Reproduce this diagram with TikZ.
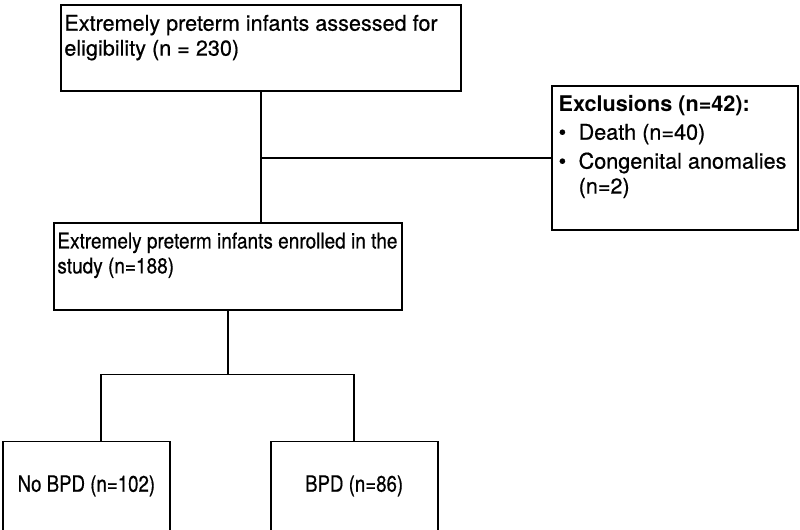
\documentclass[tikz,border=0pt]{standalone}
\usepackage{fontspec}
\setmainfont[UprightFeatures={FakeBold=0.5}]{TeX Gyre Heros}
\newfontfamily\narrowfont[FakeStretch=0.88, FakeBold=0.5]{TeX Gyre Heros}
\newfontfamily\groupfont[FakeStretch=0.83, FakeBold=0.5]{TeX Gyre Heros}
\usetikzlibrary{positioning}

\newcommand{\boxtext}[3]{\parbox[c][#2][t]{#1}{\vspace{0.2cm}#3}}

\begin{document}
\begin{tikzpicture}[
    textbox/.style={draw, line width=1pt, inner xsep=0.07cm, inner ysep=0pt, anchor=north west,
      font=\fontsize{12.3}{14.2}\selectfont},
    groupbox/.style={draw, line width=1pt, minimum width=3.34cm, minimum height=1.78cm,
      text centered, font=\groupfont\fontsize{12.8}{14.2}\selectfont},
    link/.style={line width=1.1pt}
  ]
    \useasboundingbox (0,0) rectangle (16,10.58);

    % nodes %
      \node[textbox] (elig) at (1.2,10.5) {\boxtext{7.86cm}{1.72cm}{Extremely preterm infants assessed for\\ eligibility (n = 230)}};
      \node[textbox, inner xsep=0.14cm, right=1.78cm of elig.south east, anchor=north west, yshift=0.14cm] (excl)
        {\boxtext{4.64cm}{2.88cm}{\textbf{Exclusions (n=42):}\\[0.06cm]
        \makebox[0.4cm][l]{\textbullet}Death (n=40)\\[0.08cm]
        \makebox[0.4cm][l]{\textbullet}Congenital anomalies\\
        \hspace*{0.4cm}(n=2)}};
      \node[textbox, font=\narrowfont\fontsize{12.3}{14.2}\selectfont, below=2.6cm of elig.south west, anchor=north west, xshift=-0.14cm] (enrolled)
        {\boxtext{6.82cm}{1.74cm}{Extremely preterm infants enrolled in the\\ study (n=188)}};
      \node[groupbox, below=2.6cm of enrolled.south west, anchor=north west, xshift=-1.02cm] (nobpd) {No BPD (n=102)};
      \node[groupbox, right=1.98cm of nobpd] (bpd) {BPD (n=86)};
      \coordinate[below=1.28cm of enrolled.south] (split);

      % edges %
      \draw[link] (elig.south) -- (elig.south |- enrolled.north);
      \draw[link] (elig.south |- excl.west) -- (excl.west);
      \draw[link] (enrolled.south) -- (split);
      \draw[link] ([xshift=0.29cm]nobpd.north) |- (split) -| (bpd.north);
\end{tikzpicture}
\end{document}
